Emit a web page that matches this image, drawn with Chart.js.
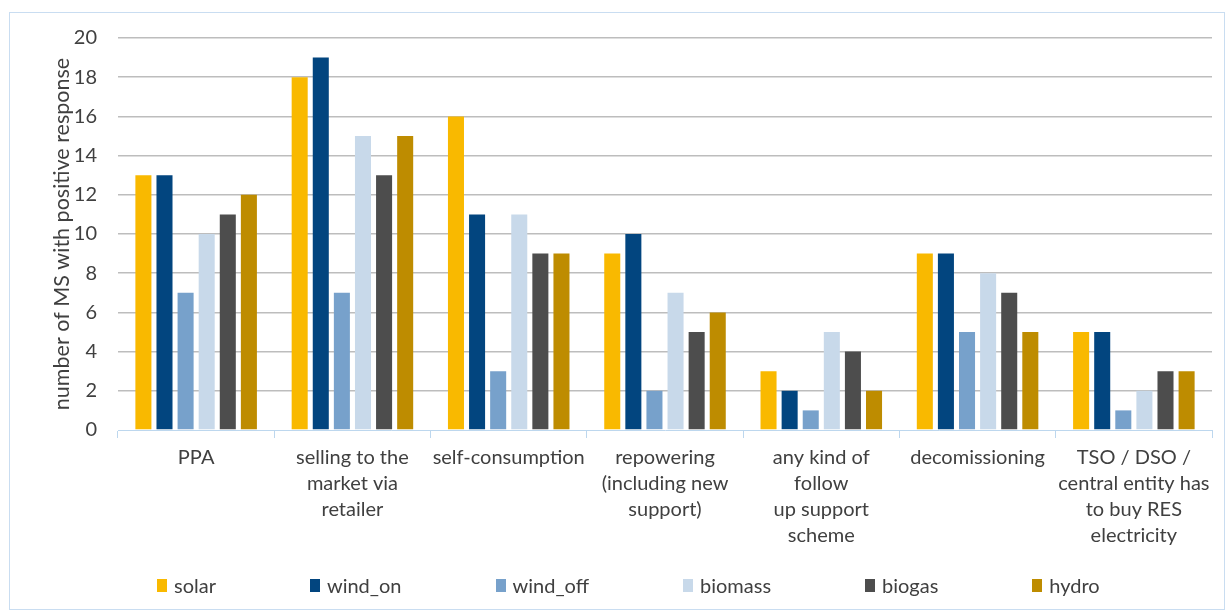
<!DOCTYPE html>
<html>
<head>
<meta charset="utf-8">
<script src="https://cdn.jsdelivr.net/npm/chart.js@4"></script>
<style>
  html, body { margin: 0; padding: 0; background: #ffffff; }
  #frame {
    position: absolute; left: 9px; top: 12px; width: 1216px; height: 598px;
    box-sizing: border-box; border: 1px solid #C9DDF1; background: #fff;
  }
  #wrap { position: absolute; left: 0; top: 0; width: 1214px; height: 596px; }
  #legend {
    position: absolute; left: 147px; top: 560px;
    display: flex; justify-content: flex-start; gap: 94px;
    font-family: Lato, "Open Sans", sans-serif; font-size: 20px; color: #404040;
    white-space: nowrap;
  }
  .item { display: flex; align-items: center; }
  .box { width: 10px; height: 13px; margin-right: 7px; }
</style>
</head>
<body>
<div id="frame">
  <div id="wrap"><canvas id="chart"></canvas></div>
  <div id="legend"></div>
</div>
<script>
// Categories (multi-line labels) and series values
const categories = [
  ["PPA"],
  ["selling to the", "market via", "retailer"],
  ["self-consumption"],
  ["repowering", "(including new", "support)"],
  ["any kind of", "follow", "up support", "scheme"],
  ["decomissioning"],
  ["TSO / DSO /", "central entity has", "to buy RES", "electricity"]
];

const solar    = [13, 18, 16,  9, 3, 9, 5];
const wind_on  = [13, 19, 11, 10, 2, 9, 5];
const wind_off = [ 7,  7,  3,  2, 1, 5, 1];
const biomass  = [10, 15, 11,  7, 5, 8, 2];
const biogas   = [11, 13,  9,  5, 4, 7, 3];
const hydro    = [12, 15,  9,  6, 2, 5, 3];

const yTicks = [0, 2, 4, 6, 8, 10, 12, 14, 16, 18, 20];

const seriesNames  = ["solar", "wind_on", "wind_off", "biomass", "biogas", "hydro"];
const seriesValues = [solar, wind_on, wind_off, biomass, biogas, hydro];
const seriesColors = ["#F9B900", "#02457F", "#77A1CB", "#C8D9EA", "#4D4D4D", "#BE8C00"];

const fontFamily = 'Lato, "Open Sans", sans-serif';
const textColor = "#404040";

const chart = new Chart(document.getElementById("chart"), {
  type: "bar",
  data: {
    labels: categories,
    datasets: seriesNames.map((name, i) => ({
      label: name,
      data: seriesValues[i],
      backgroundColor: seriesColors[i],
      borderWidth: 0,
      categoryPercentage: 0.81,
      barPercentage: 0.76
    }))
  },
  options: {
    responsive: true,
    maintainAspectRatio: false,
    animation: false,
    layout: { padding: { left: 35, right: 12, top: 25, bottom: 53 } },
    plugins: {
      legend: { display: false },
      tooltip: { enabled: false }
    },
    scales: {
      x: {
        grid: {
          offset: true,
          drawOnChartArea: false,
          drawTicks: true,
          tickLength: 8,
          color: "#BDD7EE",
          lineWidth: 1
        },
        border: { display: true, color: "#BDD7EE", width: 1 },
        ticks: {
          color: textColor,
          padding: 7,
          maxRotation: 0,
          autoSkip: false,
          font: { family: fontFamily, size: 20, lineHeight: 1.3 }
        }
      },
      y: {
        min: 0,
        max: 20,
        afterBuildTicks: (scale) => { scale.ticks = yTicks.map(v => ({ value: v })); },
        // fixed axis width: title + labels + gap to the plot
        afterFit: (scale) => { scale.width = 73; },
        grid: {
          drawTicks: true,
          tickLength: 21,
          tickColor: "rgba(0,0,0,0)",
          color: (ctx) => (ctx.tick && ctx.tick.value === 0) ? "rgba(0,0,0,0)" : "#BDBDBD",
          lineWidth: 1.6
        },
        border: { display: false },
        ticks: {
          color: textColor,
          padding: 0,
          font: { family: fontFamily, size: 20 }
        },
        title: {
          display: true,
          text: "number of MS with positive response",
          color: textColor,
          font: { family: fontFamily, size: 21.5 },
          padding: { top: 4, bottom: 0 }
        }
      }
    }
  }
});

// Legend built from the chart's own legend items
const legendEl = document.getElementById("legend");
chart.options.plugins.legend.labels.generateLabels(chart).forEach(item => {
  const el = document.createElement("div");
  el.className = "item";
  const box = document.createElement("span");
  box.className = "box";
  box.style.background = item.fillStyle;
  const txt = document.createElement("span");
  txt.textContent = item.text;
  el.appendChild(box);
  el.appendChild(txt);
  legendEl.appendChild(el);
});
</script>
</body>
</html>
